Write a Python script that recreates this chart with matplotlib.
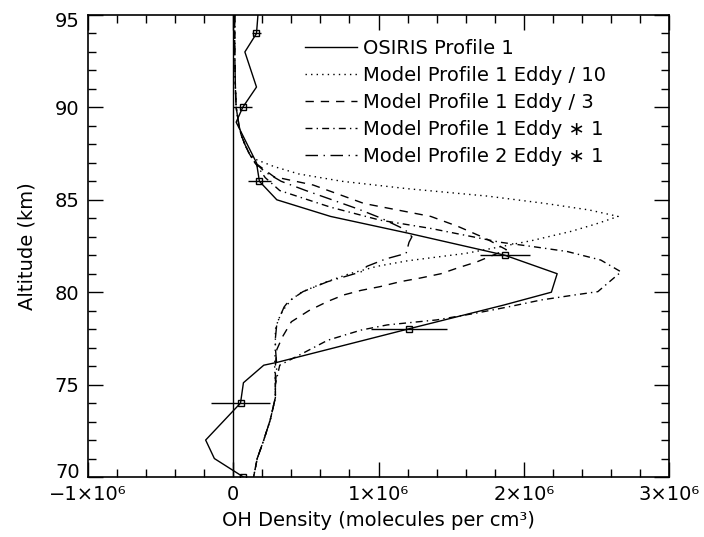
import numpy as np
import matplotlib
matplotlib.use("Agg")
import matplotlib.pyplot as plt
from matplotlib.ticker import MultipleLocator
from matplotlib.transforms import ScaledTranslation

# OSIRIS profile 1 (solid line), altitude in km, density in molecules/cm3
osiris_alt = [95.0, 94.0, 93.0, 91.1, 90.0, 89.2, 87.0, 86.0, 85.0, 84.1, 83.2, 82.0,
              81.0, 80.0, 79.3, 78.0, 76.2, 76.05, 75.1, 74.0, 72.0, 71.0, 70.1, 70.0]
osiris_x = [0.17e6, 0.16e6, 0.08e6, 0.16e6, 0.065e6, 0.02e6, 0.16e6, 0.18e6, 0.30e6, 0.67e6,
            1.20e6, 1.87e6, 2.23e6, 2.19e6, 1.86e6, 1.20e6, 0.30e6, 0.21e6, 0.07e6, 0.05e6,
            -0.19e6, -0.13e6, 0.05e6, 0.07e6]

# error bar points
err_alt = [94, 90, 86, 82, 78, 74, 70]
err_x = [0.16e6, 0.065e6, 0.18e6, 1.87e6, 1.21e6, 0.05e6, 0.07e6]
err_dx = [0.03e6, 0.065e6, 0.08e6, 0.17e6, 0.26e6, 0.20e6, 0.03e6]

# model profile 1, eddy / 10 (dotted)
m10_alt = [95, 93, 91, 90, 89, 88.5, 88, 87.5, 87.2, 86.8, 86.4, 86.0, 85.6, 85.2, 84.8,
           84.45, 84.1, 83.7, 83.3, 82.8, 82.4, 82.1, 81.7, 81.4, 81.0, 80.5, 80.0, 79.6,
           79.0, 78.5, 78.0, 77.0, 76.0, 75.0, 74.3, 73.1, 72.0, 71.0, 70.0]
m10_x = [0.01e6, 0.01e6, 0.015e6, 0.02e6, 0.04e6, 0.055e6, 0.08e6, 0.11e6, 0.15e6, 0.28e6,
         0.45e6, 0.75e6, 1.20e6, 1.75e6, 2.15e6, 2.45e6, 2.65e6, 2.50e6, 2.33e6, 2.06e6,
         1.80e6, 1.60e6, 1.20e6, 0.99e6, 0.80e6, 0.62e6, 0.47e6, 0.40e6, 0.34e6, 0.31e6,
         0.29e6, 0.29e6, 0.285e6, 0.29e6, 0.29e6, 0.255e6, 0.21e6, 0.165e6, 0.14e6]

# model profile 1, eddy / 3 (dashed)
m3_alt = [95, 93, 91, 90, 89, 88.5, 88, 87.5, 87.0, 86.25, 85.8, 84.8, 84.1, 83.55, 82.9,
          82.3, 81.65, 81.3, 81.0, 80.77, 80.57, 80.3, 80.1, 79.85, 79.5, 79.0, 78.4, 77.6,
          76.9, 76.0, 75.0, 74.3, 73.1, 72.0, 71.0, 70.0]
m3_x = [0.01e6, 0.01e6, 0.015e6, 0.02e6, 0.04e6, 0.055e6, 0.08e6, 0.11e6, 0.15e6, 0.28e6,
        0.55e6, 0.90e6, 1.36e6, 1.55e6, 1.74e6, 1.88e6, 1.68e6, 1.54e6, 1.43e6, 1.29e6,
        1.15e6, 1.01e6, 0.88e6, 0.76e6, 0.65e6, 0.52e6, 0.40e6, 0.34e6, 0.30e6, 0.29e6,
        0.29e6, 0.29e6, 0.255e6, 0.21e6, 0.165e6, 0.14e6]

# model profile 1, eddy * 1 (dash dot)
m1_alt = [95, 93, 91, 90, 89, 88.5, 88, 87.5, 87.0, 86.2, 85.5, 84.6, 83.9, 83.45, 82.7,
          82.46, 82.2, 81.74, 81.1, 80.5, 80.03, 79.85, 79.58, 79.2, 78.85, 78.5, 78.23,
          77.95, 77.4, 76.7, 76.05, 75.0, 74.3, 73.1, 72.0, 71.0, 70.0]
m1_x = [0.01e6, 0.01e6, 0.015e6, 0.02e6, 0.04e6, 0.055e6, 0.08e6, 0.11e6, 0.15e6, 0.22e6,
        0.32e6, 0.67e6, 1.01e6, 1.36e6, 1.84e6, 2.07e6, 2.30e6, 2.53e6, 2.67e6, 2.58e6,
        2.51e6, 2.35e6, 2.12e6, 1.89e6, 1.66e6, 1.40e6, 1.06e6, 0.88e6, 0.65e6, 0.48e6,
        0.32e6, 0.29e6, 0.29e6, 0.255e6, 0.21e6, 0.165e6, 0.14e6]

# model profile 2, eddy * 1 (long dash dot)
p2_alt = [95, 93, 91, 90, 89, 88.5, 88, 87.5, 87.0, 86.5, 86.0, 85.5, 85.0, 84.5, 84.0,
          83.4, 83.0, 82.7, 82.1, 81.8, 81.4, 81.1, 80.57, 80.03, 79.5, 79.2, 78.3, 77.5,
          77.0, 76.0, 75.0, 74.3, 73.1, 72.0, 71.0, 70.0]
p2_x = [0.01e6, 0.01e6, 0.015e6, 0.02e6, 0.04e6, 0.055e6, 0.08e6, 0.11e6, 0.15e6, 0.22e6,
        0.33e6, 0.50e6, 0.68e6, 0.86e6, 1.02e6, 1.18e6, 1.23e6, 1.21e6, 1.19e6, 1.05e6,
        0.92e6, 0.88e6, 0.65e6, 0.48e6, 0.38e6, 0.35e6, 0.30e6, 0.29e6, 0.29e6, 0.30e6,
        0.29e6, 0.29e6, 0.255e6, 0.21e6, 0.165e6, 0.14e6]

xticks = [-1e6, 0, 1e6, 2e6, 3e6]
xtick_labels = ["\u22121\u00d710\u2076", "0", "1\u00d710\u2076", "2\u00d710\u2076", "3\u00d710\u2076"]
yticks = [70, 75, 80, 85, 90, 95]

plt.rcParams["font.family"] = "DejaVu Sans"
fig = plt.figure(figsize=(7.04, 5.37), dpi=100)
ax = fig.add_axes([0.125, 0.1117, 0.8253, 0.8604])

lw = 1.0
ax.plot(osiris_x, osiris_alt, color="black", lw=lw, ls="-", label="OSIRIS Profile 1")
ax.plot(m10_x, m10_alt, color="black", lw=lw, ls=(0, (1, 3)), label="Model Profile 1 Eddy / 10")
ax.plot(m3_x, m3_alt, color="black", lw=lw, ls=(0, (6, 5)), label="Model Profile 1 Eddy / 3")
ax.plot(m1_x, m1_alt, color="black", lw=lw, ls=(0, (5, 3, 1, 3)), label="Model Profile 1 Eddy \u2217 1")
ax.plot(p2_x, p2_alt, color="black", lw=lw, ls=(0, (9, 4, 1, 4)), label="Model Profile 2 Eddy \u2217 1")

ax.errorbar(err_x, err_alt, xerr=err_dx, fmt="s", mfc="none", mec="black", ms=5,
            mew=1.0, ecolor="black", elinewidth=1.0, capsize=0)

ax.axvline(0, color="black", lw=1.0)

ax.set_xticks(xticks)
ax.set_xticklabels(xtick_labels)
ax.set_yticks(yticks)
ax.set_yticklabels([str(v) for v in yticks])
ax.xaxis.set_minor_locator(MultipleLocator(2e5))
ax.yaxis.set_minor_locator(MultipleLocator(1))
ax.tick_params(which="both", direction="in", top=True, right=True, labelsize=14, pad=6)
ax.tick_params(which="major", length=11, width=1)
ax.tick_params(which="minor", length=6, width=1)
for s in ax.spines.values():
    s.set_linewidth(1.2)

ax.set_xlabel("OH Density (molecules per cm\u00b3)", fontsize=14, labelpad=5)
ax.set_ylabel("Altitude (km)", fontsize=14, labelpad=13)

ax.legend(loc="upper left", bbox_to_anchor=(0.373, 0.9485), frameon=False, fontsize=14,
          handlelength=2.7, handletextpad=0.3, labelspacing=0.41, borderpad=0,
          borderaxespad=0)

ax.set_xlim(-1e6, 3e6)
ax.set_ylim(70, 95)

# the end labels of the y axis sit a little inside, as in the original
yt = ax.yaxis.get_major_ticks()
lab0 = yt[0].label1
lab0.set_transform(lab0.get_transform() + ScaledTranslation(0, 7 / 100, fig.dpi_scale_trans))
labn = yt[-1].label1
labn.set_transform(labn.get_transform() + ScaledTranslation(0, -5 / 100, fig.dpi_scale_trans))

fig.savefig("out.png", dpi=100)
